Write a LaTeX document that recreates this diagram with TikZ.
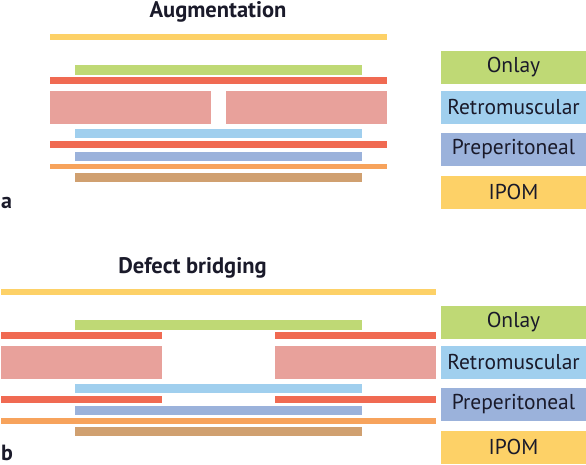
\documentclass[tikz,border=0pt]{standalone}
\usepackage{fontspec}
\setmainfont{PT Sans}
\definecolor{cyellow}{HTML}{FDD167}
\definecolor{cgreen}{HTML}{BFD975}
\definecolor{cred}{HTML}{F06A52}
\definecolor{cpink}{HTML}{E8A19B}
\definecolor{cblue}{HTML}{A0CFEE}
\definecolor{cpurple}{HTML}{9BB2DB}
\definecolor{corange}{HTML}{F7A35C}
\definecolor{cbrown}{HTML}{D0A070}
\definecolor{ctext}{HTML}{1A1A2A}
\begin{document}
\begin{tikzpicture}[x=1pt,y=-1pt,
  legbox/.style={fill=#1, draw=none, minimum width=145pt, minimum height=33pt, inner sep=0pt, text=ctext, font=\fontsize{21.5}{24}\selectfont},
  titletext/.style={text=ctext, font=\bfseries\fontsize{22.5}{26}\selectfont, inner sep=0pt, anchor=base},
  paneltag/.style={text=ctext, font=\bfseries\fontsize{22}{26}\selectfont, inner sep=0pt, anchor=base west}]
\useasboundingbox (0,0) rectangle (586,464);
% ---------- panel a ----------
\node[titletext] (ta) at (218,17) {Augmentation};
\fill[cyellow] (50,34) rectangle (387,40);
\fill[cgreen] (75,65) rectangle (362,75);
\fill[cred] (50,77) rectangle (387,84);
\fill[cpink] (50,91) rectangle (211,124);
\fill[cpink] (226,91) rectangle (387,124);
\fill[cblue] (75,129) rectangle (362,138);
\fill[cred] (50,141) rectangle (387,148);
\fill[cpurple] (75,152) rectangle (362,161);
\fill[corange] (50,164) rectangle (387,169);
\fill[cbrown] (75,173) rectangle (362,182);
\node[paneltag] (la) at (1,208) {a};
\node[legbox=cgreen] (a1) at (513.5,67.5) {Onlay};
\node[legbox=cblue] (a2) at (513.5,107) {Retromuscular};
\node[legbox=cpurple] (a3) at (513.5,149.5) {Preperitoneal};
\node[legbox=cyellow] (a4) at (513.5,192) {IPOM};
% ---------- panel b ----------
\node[titletext] (tb) at (192.5,273) {Defect bridging};
\fill[cyellow] (1,289) rectangle (436,295);
\fill[cgreen] (75,320) rectangle (362,330);
\fill[cred] (1,332) rectangle (162,339);
\fill[cred] (275,332) rectangle (436,339);
\fill[cpink] (1,346) rectangle (162,379);
\fill[cpink] (275,346) rectangle (436,379);
\fill[cblue] (75,384) rectangle (362,393);
\fill[cred] (1,396) rectangle (162,403);
\fill[cred] (275,396) rectangle (436,403);
\fill[cpurple] (75,406) rectangle (362,415);
\fill[corange] (1,418) rectangle (436,424);
\fill[cbrown] (75,427) rectangle (362,436);
\node[paneltag] (lb) at (1,460.5) {b};
\node[legbox=cgreen] (b1) at (513.5,322.5) {Onlay};
\node[legbox=cblue] (b2) at (513.5,362) {Retromuscular};
\node[legbox=cpurple] (b3) at (513.5,404.5) {Preperitoneal};
\node[legbox=cyellow] (b4) at (513.5,447) {IPOM};
\end{tikzpicture}
\end{document}
